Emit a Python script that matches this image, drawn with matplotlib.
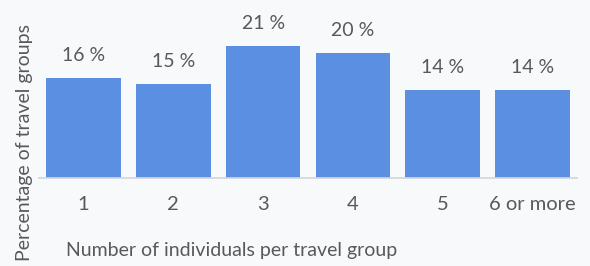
import matplotlib
matplotlib.use('Agg')
import matplotlib.pyplot as plt

# group sizes and share of travel groups (%)
categories = ['1', '2', '3', '4', '5', '6 or more']
shares = [16, 15, 21, 20, 14, 14]

plt.rcParams['font.family'] = ['Lato', 'DejaVu Sans']

bg = '#f8f9fb'
bar_color = '#5a8fe2'
text_color = '#595959'

fig = plt.figure(figsize=(5.9, 2.66), dpi=100, facecolor=bg)
ax = fig.add_axes([0.0654, 0.3308, 0.9132, 0.6692], facecolor=bg)

x = range(len(categories))
bars = ax.bar(x, shares, width=0.83, color=bar_color)
for xi, v in zip(x, shares):
    ax.annotate('{} %'.format(v), (xi, v), xytext=(0, 10), textcoords='offset points',
                ha='center', va='bottom', fontsize=14, color=text_color)

ax.set_xlim(-0.5, len(categories) - 0.5)
ax.set_ylim(0, 28.4)
ax.set_xticks(list(x))
ax.set_xticklabels(categories, fontsize=14.5, color=text_color)
ax.tick_params(axis='x', length=0, pad=13)
ax.set_yticks([])
for s in ['top', 'right', 'left']:
    ax.spines[s].set_visible(False)
ax.spines['bottom'].set_color('#d4d6da')
ax.spines['bottom'].set_linewidth(1.2)

fig.text(0.042, 0.465, 'Percentage of travel groups', rotation=90, ha='center', va='center',
         fontsize=14, color=text_color)
fig.text(0.112, 0.06, 'Number of individuals per travel group', ha='left', va='center',
         fontsize=14, color=text_color)

fig.savefig('out.png', dpi=100, facecolor=bg)
